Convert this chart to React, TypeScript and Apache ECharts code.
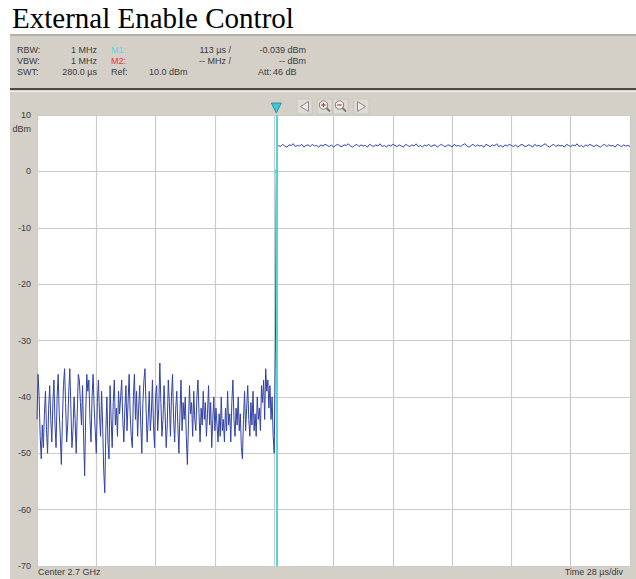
import React, { useEffect, useRef } from 'react';
import * as echarts from 'echarts';

const TITLE = 'External Enable Control';
const TIME_MIN = 0;
const TIME_MAX = 280; // µs
const TIME_DIV = 28; // µs/div
const Y_MIN = -70;
const Y_MAX = 10;
const Y_DIV = 10;

// noise floor before enable, sampled every 0.5 µs from 0 to 112 µs
const NOISE_STEP = 0.5;
const noiseValues = [
  -44, -36, -40, -47, -51, -45, -49, -43, -39, -46,
  -50, -42, -38, -44, -48, -41, -37, -45, -49, -40,
  -36, -43, -47, -52, -44, -38, -35, -41, -48, -45,
  -39, -35, -42, -49, -46, -40, -44, -50, -43, -36,
  -37, -41, -45, -38, -47, -54, -43, -36, -39, -37,
  -44, -48, -40, -36, -42, -46, -50, -41, -37, -43,
  -47, -39, -45, -53, -57, -46, -40, -48, -51, -38,
  -44, -49, -41, -37, -45, -42, -47, -39, -43, -40,
  -37, -44, -48, -42, -38, -46, -41, -36, -43, -47,
  -49, -40, -36, -44, -39, -47, -42, -38, -45, -50,
  -41, -37, -35, -42, -48, -44, -39, -46, -43, -37,
  -45, -49, -40, -38, -46, -42, -34, -41, -47, -44,
  -38, -43, -49, -45, -37, -41, -47, -40, -36, -44,
  -48, -42, -39, -45, -50, -43, -37, -46, -41, -44,
  -40, -47, -52, -45, -38, -43, -41, -47, -39, -44,
  -46, -40, -37, -43, -48, -42, -45, -39, -44, -41,
  -47, -43, -38, -45, -41, -49, -44, -40, -46, -42,
  -45, -48, -43, -47, -40, -46, -44, -48, -42, -46,
  -39, -45, -43, -48, -41, -37, -44, -47, -42, -45,
  -40, -46, -43, -49, -51, -44, -39, -46, -42, -38,
  -44, -47, -41, -45, -39, -46, -43, -47, -40, -44,
  -42, -46, -38, -41, -37, -44, -35, -39, -37, -42,
  -38, -44, -40, -47, -50,
];

// the enable edge
const stepTimes = [112.6, 112.9, 113, 113.2, 113.5];
const stepValues = [-30, -6, -0.04, 2, 4.6];

// enabled carrier level, sampled every 1 µs from 114 to 280 µs
const PLATEAU_START = 114;
const PLATEAU_STEP = 1;
const plateauValues = [
  4.6, 4.4, 4.8, 4.5, 4.3, 4.7, 4.6, 4.9, 4.4, 4.6,
  4.5, 4.8, 4.3, 4.6, 4.7, 4.4, 4.8, 4.5, 4.6, 4.3,
  4.7, 4.5, 4.8, 4.6, 4.4, 4.7, 4.3, 4.6, 4.8, 4.5,
  4.4, 4.7, 4.6, 4.9, 4.5, 4.3, 4.6, 4.8, 4.4, 4.7,
  4.5, 4.6, 4.3, 4.8, 4.6, 4.4, 4.7, 4.5, 4.9, 4.4,
  4.6, 4.3, 4.7, 4.5, 4.8, 4.6, 4.4, 4.7, 4.5, 4.3,
  4.8, 4.6, 4.4, 4.7, 4.5, 4.9, 4.4, 4.6, 4.3, 4.7,
  4.5, 4.8, 4.4, 4.6, 4.7, 4.3, 4.6, 4.8, 4.5, 4.4,
  4.7, 4.6, 4.3, 4.8, 4.5, 4.6, 4.4, 4.7, 4.9, 4.5,
  4.3, 4.6, 4.8, 4.4, 4.7, 4.5, 4.6, 4.3, 4.8, 4.6,
  4.4, 4.7, 4.5, 4.9, 4.4, 4.6, 4.3, 4.7, 4.5, 4.8,
  4.6, 4.4, 4.7, 4.3, 4.6, 4.8, 4.5, 4.4, 4.7, 4.6,
  4.3, 4.8, 4.5, 4.6, 4.4, 4.7, 4.9, 4.5, 4.3, 4.6,
  4.8, 4.4, 4.7, 4.5, 4.6, 4.3, 4.8, 4.6, 4.4, 4.7,
  4.5, 4.9, 4.4, 4.6, 4.3, 4.7, 4.5, 4.8, 4.6, 4.4,
  4.7, 4.5, 4.3, 4.6, 4.8, 4.4, 4.7, 4.5, 4.6, 4.3,
  4.8, 4.6, 4.4, 4.7, 4.5, 4.6, 4.4,
];

const MARKER_TIME = 113;
const MARKER_VALUE = -0.039;

const headerLabels = ['RBW:', 'VBW:', 'SWT:'];
const headerValues = ['1 MHz', '1 MHz', '280.0 µs'];
const markerLabels = ['M1:', 'M2:', 'Ref:'];
const markerXTexts = ['113 µs /', '-- MHz /'];
const markerYTexts = ['-0.039 dBm', '-- dBm'];
const REF_TEXT = '10.0 dBm';
const ATT_LABEL = 'Att:';
const ATT_TEXT = '46 dB';
const CENTER_TEXT = 'Center 2.7 GHz';
const SPAN_TEXT = 'Time 28 µs/div';
const UNIT_TEXT = 'dBm';

const GRAY = '#d4d0c8';
const TXT = '#3a3a3a';
const CYAN = '#4fd6e6';
const FONT = 'Liberation Sans, Arial, sans-serif';

export default function App() {
  const ref = useRef<HTMLDivElement>(null);
  useEffect(() => {
    if (!ref.current) return;
    const chart = echarts.init(ref.current, undefined, { renderer: 'svg' });
    const trace: number[][] = [];
    noiseValues.forEach((v, i) => trace.push([TIME_MIN + i * NOISE_STEP, v]));
    stepTimes.forEach((t, i) => trace.push([t, stepValues[i]]));
    plateauValues.forEach((v, i) => trace.push([PLATEAU_START + i * PLATEAU_STEP, v]));

    chart.setOption({
      animation: false,
      grid: {
        left: 37, top: 115, right: 6, bottom: 13,
        show: true, backgroundColor: '#ffffff', borderWidth: 0, z: 0,
      },
      xAxis: {
        type: 'value', min: TIME_MIN, max: TIME_MAX, interval: TIME_DIV, z: 2,
        axisLine: { show: false }, axisTick: { show: false }, axisLabel: { show: false },
        splitLine: { show: true, lineStyle: { color: '#cbcbcb', width: 1.2 } },
      },
      yAxis: {
        type: 'value', min: Y_MIN, max: Y_MAX, interval: Y_DIV, z: 2,
        axisLine: { show: false }, axisTick: { show: false },
        axisLabel: { color: TXT, fontSize: 9, fontFamily: FONT, margin: 6 },
        splitLine: { show: true, lineStyle: { color: '#cbcbcb', width: 1.2 } },
      },
      series: [
        {
          type: 'line', data: trace, showSymbol: false, silent: true,
          lineStyle: { color: '#3242a4', width: 1 },
          markLine: {
            silent: true, symbol: 'none', label: { show: false },
            lineStyle: { color: CYAN, width: 2, type: 'solid' },
            data: [{ xAxis: MARKER_TIME }],
          },
          z: 3,
        },
        {
          type: 'scatter', data: [[MARKER_TIME, MARKER_VALUE]], symbolSize: 4,
          itemStyle: { color: CYAN }, silent: true, z: 4,
        },
      ],
    });

    const mx = chart.convertToPixel({ xAxisIndex: 0 }, MARKER_TIME) as number;
    const rowY = [50, 61, 71.5];
    const t = (text: string, x: number, y: number, align: string, fill = TXT, size = 9, extra: any = {}) => ({
      type: 'text', z: 5, silent: true,
      style: { text, x, y, align, verticalAlign: 'middle', fill, font: `${size}px ${FONT}`, ...extra },
    });
    const g: any[] = [
      { type: 'rect', z: -10, silent: true, shape: { x: 10, y: 34, width: 626, height: 545 }, style: { fill: GRAY } },
      { type: 'rect', z: -9, silent: true, shape: { x: 10, y: 34, width: 626, height: 2 }, style: { fill: '#b3b0a9' } },
      { type: 'rect', z: -9, silent: true, shape: { x: 10, y: 88, width: 626, height: 2 }, style: { fill: '#4a4a4a' } },
      { type: 'rect', z: -9, silent: true, shape: { x: 10, y: 91, width: 626, height: 1 }, style: { fill: '#f2f1ee' } },
      {
        type: 'text', z: 5, silent: true,
        style: { text: TITLE, x: 12, y: 18, verticalAlign: 'middle', fill: '#000', font: '29px Liberation Serif, Times New Roman, serif' },
      },
    ];
    headerLabels.forEach((s, i) => g.push(t(s, 17, rowY[i], 'left')));
    headerValues.forEach((s, i) => g.push(t(s, 97, rowY[i], 'right')));
    const mColors = ['#5fd3e3', '#e03535', TXT];
    markerLabels.forEach((s, i) => g.push(t(s, 111, rowY[i], 'left', mColors[i])));
    g.push(t(REF_TEXT, 149, rowY[2], 'left'));
    markerXTexts.forEach((s, i) => g.push(t(s, 231, rowY[i], 'right')));
    markerYTexts.forEach((s, i) => g.push(t(s, 306, rowY[i], 'right')));
    g.push(t(ATT_LABEL, 258, rowY[2], 'left'));
    g.push(t(ATT_TEXT, 273, rowY[2], 'left'));
    g.push(t(UNIT_TEXT, 31, 129, 'right'));
    g.push(t(CENTER_TEXT, 38, 572, 'left'));
    g.push(t(SPAN_TEXT, 623, 572, 'right'));
    // marker triangle
    g.push({
      type: 'polygon', z: 6, silent: true,
      shape: { points: [[mx - 5, 103], [mx + 5, 103], [mx, 113]] },
      style: { fill: '#3cc9da', stroke: '#2a7d88', lineWidth: 0.8 },
    });
    // toolbar buttons
    const btn = (x: number) => ({
      type: 'rect', z: 5, silent: true, shape: { x, y: 99, width: 15, height: 15 },
      style: { fill: '#dedbd4', stroke: '#c9c6bf', lineWidth: 1 },
    });
    [297, 317, 333, 354].forEach((x) => g.push(btn(x)));
    g.push({
      type: 'polygon', z: 6, silent: true,
      shape: { points: [[308.5, 101.5], [308.5, 111.5], [300.5, 106.5]] },
      style: { fill: '#ebeae6', stroke: '#8a8a8a', lineWidth: 1 },
    });
    g.push({
      type: 'polygon', z: 6, silent: true,
      shape: { points: [[357.5, 101.5], [357.5, 111.5], [365.5, 106.5]] },
      style: { fill: '#ebeae6', stroke: '#8a8a8a', lineWidth: 1 },
    });
    [[323.5, 105], [339.5, 105]].forEach(([cx, cy], k) => {
      g.push({ type: 'line', z: 6, silent: true, shape: { x1: cx + 3, y1: cy + 3, x2: cx + 6.5, y2: cy + 6.5 }, style: { stroke: '#777', lineWidth: 2 } });
      g.push({ type: 'circle', z: 6, silent: true, shape: { cx, cy, r: 4.2 }, style: { fill: '#f1f0ec', stroke: '#7b7b7b', lineWidth: 1 } });
      g.push({ type: 'line', z: 7, silent: true, shape: { x1: cx - 2.2, y1: cy, x2: cx + 2.2, y2: cy }, style: { stroke: '#d23a3a', lineWidth: 1.3 } });
      if (k === 0) g.push({ type: 'line', z: 7, silent: true, shape: { x1: cx, y1: cy - 2.2, x2: cx, y2: cy + 2.2 }, style: { stroke: '#d23a3a', lineWidth: 1.3 } });
    });
    chart.setOption({ graphic: g });
    return () => chart.dispose();
  }, []);
  return <div ref={ref} style={{ position: 'fixed', left: 0, top: 0, width: 636, height: 579, background: '#fff' }} />;
}
